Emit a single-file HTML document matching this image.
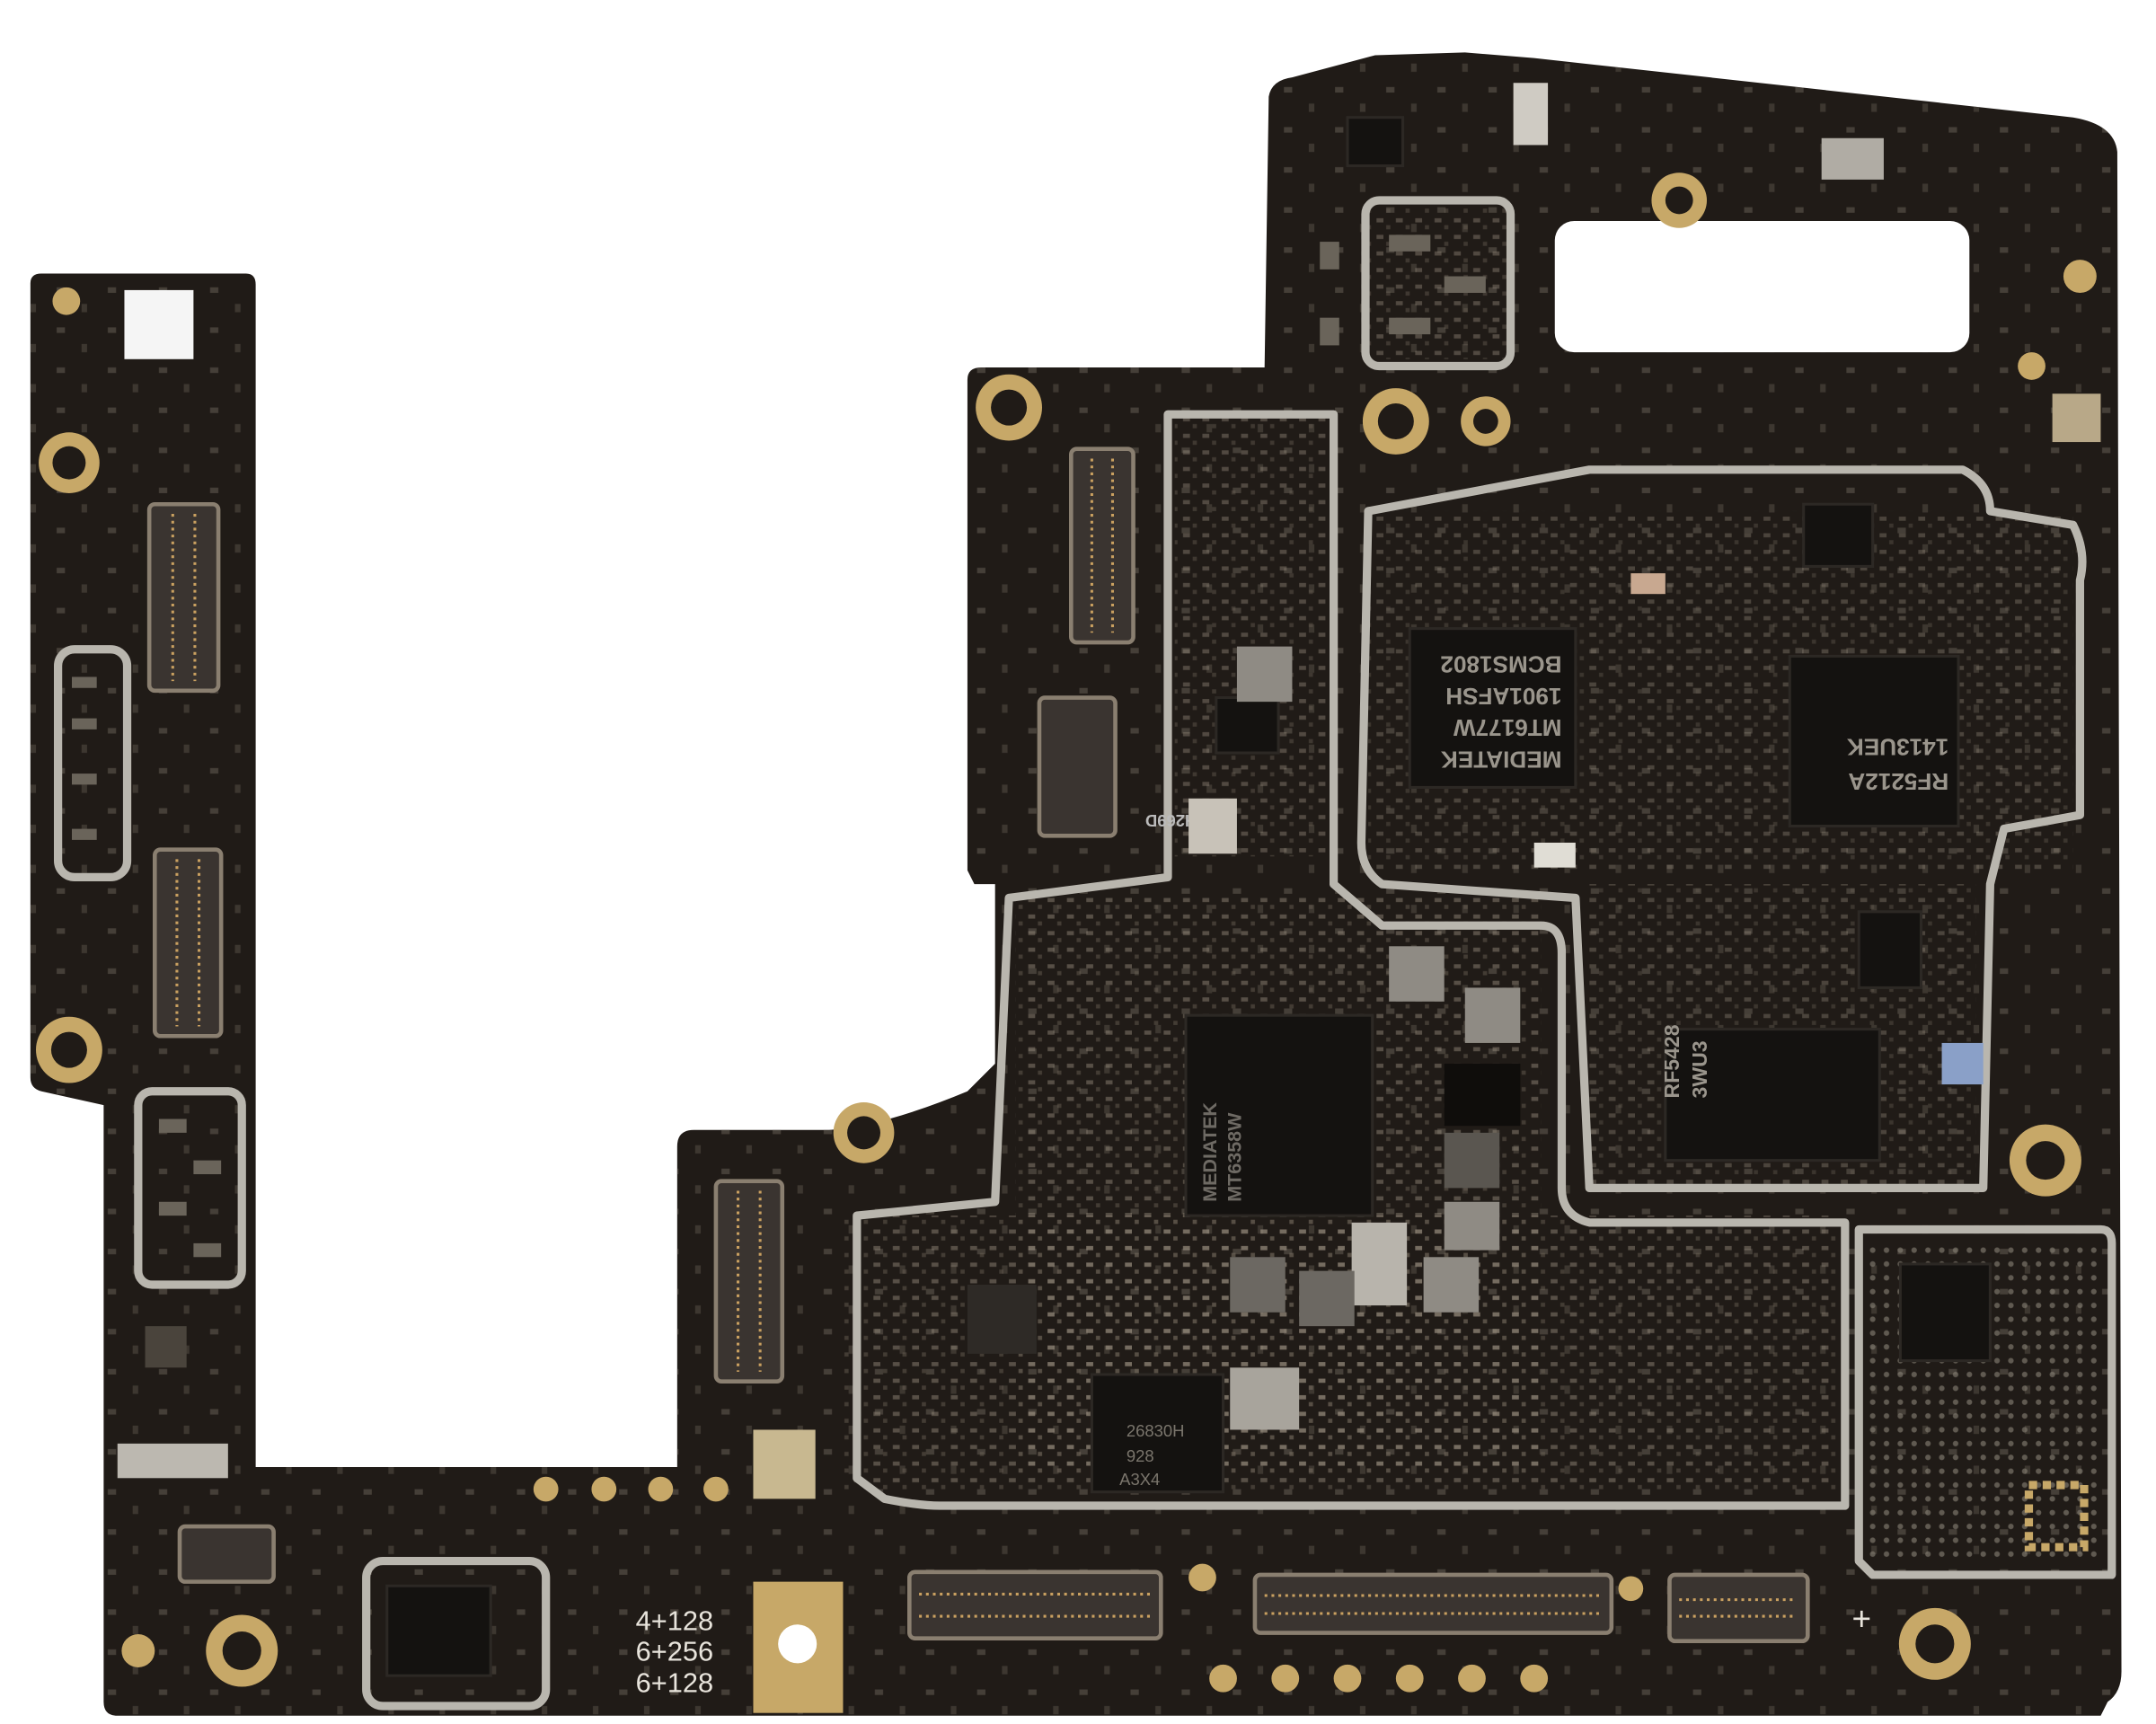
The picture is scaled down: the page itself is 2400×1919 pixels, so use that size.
<!DOCTYPE html>
<html><head><meta charset="utf-8"><style>
html,body{margin:0;padding:0;background:#fff;}
svg{display:block;}
text{font-family:"Liberation Sans",sans-serif;}
</style></head><body>
<svg width="2400" height="1919" viewBox="0 0 1560 1248" preserveAspectRatio="none" xmlns="http://www.w3.org/2000/svg">
<defs>
<pattern id="dots" width="14" height="12" patternUnits="userSpaceOnUse">
<rect x="2" y="2" width="5" height="3" fill="#9a8f80"/><rect x="9" y="7" width="3" height="3" fill="#6e6458"/>
</pattern>
<pattern id="dots2" width="10" height="10" patternUnits="userSpaceOnUse">
<circle cx="5" cy="5" r="2" fill="#8a8478"/>
</pattern>
<pattern id="sparse" width="37" height="29" patternUnits="userSpaceOnUse">
<rect x="4" y="5" width="6" height="4" fill="#6a6258"/><rect x="22" y="17" width="4" height="6" fill="#5a534a"/>
</pattern>
</defs>
<rect width="1560" height="1248" fill="#fff"/>
<path id="board" d="M22,205 Q22,198 30,198 L178,198 Q185,198 185,206 L185,1062 L490,1062 L490,830 Q490,818 502,818 L600,818 Q640,815 700,790 L720,770 L720,640 L705,640 L700,630 L700,275 Q700,266 710,266 L915,266 L918,70 Q920,58 935,56 L995,40 L1060,38 L1110,42 L1500,85 Q1530,90 1532,110 L1535,1210 Q1535,1225 1525,1232 L1520,1242 L85,1242 Q75,1242 75,1232 L75,800 L30,790 Q22,788 22,780 Z" fill="#201b17"/>
<path d="M22,205 Q22,198 30,198 L178,198 Q185,198 185,206 L185,1062 L490,1062 L490,830 Q490,818 502,818 L600,818 Q640,815 700,790 L720,770 L720,640 L705,640 L700,630 L700,275 Q700,266 710,266 L915,266 L918,70 Q920,58 935,56 L995,40 L1060,38 L1110,42 L1500,85 Q1530,90 1532,110 L1535,1210 Q1535,1225 1525,1232 L1520,1242 L85,1242 Q75,1242 75,1232 L75,800 L30,790 Q22,788 22,780 Z" fill="url(#sparse)" opacity="0.5"/>
<rect x="1125" y="160" width="300" height="95" rx="14" fill="#fff"/>
<rect x="735" y="650" width="380" height="420" fill="url(#dots)" opacity="0.45"/>
<rect x="610" y="880" width="720" height="200" fill="url(#dots)" opacity="0.45"/>
<rect x="990" y="370" width="510" height="260" fill="url(#dots)" opacity="0.35"/>
<rect x="1150" y="640" width="280" height="220" fill="url(#dots)" opacity="0.35"/>
<rect x="850" y="300" width="110" height="320" fill="url(#dots)" opacity="0.4"/>
<rect x="1350" y="900" width="170" height="230" fill="url(#dots2)" opacity="0.6"/>
<rect x="985" y="150" width="110" height="110" fill="url(#dots)" opacity="0.4"/>
<g fill="none" stroke="#b9b6ae" stroke-width="6" stroke-linejoin="round">
<path d="M845,300 L965,300 L965,640 L1000,670 L1115,670 Q1130,670 1130,690 L1130,860 Q1130,880 1150,885 L1335,885 L1335,1090 L680,1090 Q665,1090 640,1085 L620,1070 L620,880 L720,870 L730,650 L845,635 Z"/>
<path d="M990,370 L1150,340 L1420,340 Q1440,350 1440,370 L1500,380 Q1510,400 1505,420 L1505,590 L1450,600 L1440,640 L1435,860 L1150,860 L1140,650 L1000,640 Q985,630 985,610 Z"/>
<path d="M1345,890 L1520,890 Q1528,890 1528,900 L1528,1140 L1355,1140 L1345,1130 Z"/>
<rect x="988" y="145" width="105" height="120" rx="10"/>
<rect x="42" y="470" width="50" height="165" rx="12"/>
<rect x="100" y="790" width="75" height="140" rx="10"/>
<rect x="265" y="1130" width="130" height="105" rx="12"/>
</g>
<g fill="#c7a868">
<circle cx="50" cy="335" r="22"/><circle cx="50" cy="760" r="24"/><circle cx="175" cy="1195" r="26"/>
<circle cx="730" cy="295" r="24"/><circle cx="1010" cy="305" r="24"/><circle cx="1075" cy="305" r="18"/>
<circle cx="1215" cy="145" r="20"/><circle cx="1480" cy="840" r="26"/><circle cx="1400" cy="1190" r="26"/>
<circle cx="625" cy="820" r="22"/><circle cx="1505" cy="200" r="12"/><circle cx="1470" cy="265" r="10"/>
<circle cx="48" cy="218" r="10"/><circle cx="100" cy="1195" r="12"/>
<circle cx="395" cy="1078" r="9"/><circle cx="437" cy="1078" r="9"/><circle cx="478" cy="1078" r="9"/><circle cx="518" cy="1078" r="9"/>
<circle cx="870" cy="1142" r="10"/><circle cx="885" cy="1215" r="10"/><circle cx="930" cy="1215" r="10"/><circle cx="975" cy="1215" r="10"/><circle cx="1020" cy="1215" r="10"/><circle cx="1065" cy="1215" r="10"/><circle cx="1110" cy="1215" r="10"/><circle cx="1180" cy="1150" r="9"/>
</g>
<g fill="#201b17">
<circle cx="50" cy="335" r="12"/><circle cx="50" cy="760" r="13"/><circle cx="175" cy="1195" r="14"/>
<circle cx="730" cy="295" r="13"/><circle cx="1010" cy="305" r="13"/><circle cx="1075" cy="305" r="9"/>
<circle cx="1215" cy="145" r="10"/><circle cx="1480" cy="840" r="14"/><circle cx="1400" cy="1190" r="14"/><circle cx="625" cy="820" r="12"/>
</g>
<rect x="545" y="1145" width="65" height="95" fill="#c7a868"/>
<circle cx="577" cy="1190" r="14" fill="#fff"/>
<rect x="90" y="210" width="50" height="50" fill="#f5f5f5"/>
<g fill="#3a3430" stroke="#8a7f70" stroke-width="3">
<rect x="108" y="365" width="50" height="135" rx="4"/>
<rect x="112" y="615" width="48" height="135" rx="4"/>
<rect x="775" y="325" width="45" height="140" rx="4"/>
<rect x="752" y="505" width="55" height="100" rx="4"/>
<rect x="518" y="855" width="48" height="145" rx="4"/>
<rect x="658" y="1138" width="182" height="48" rx="4"/>
<rect x="908" y="1140" width="258" height="42" rx="4"/>
<rect x="1208" y="1140" width="100" height="48" rx="4"/>
<rect x="130" y="1105" width="68" height="40" rx="4"/>
</g>
<g stroke="#c9a060" stroke-width="2" stroke-dasharray="2 3">
<line x1="125" y1="372" x2="125" y2="493"/><line x1="141" y1="372" x2="141" y2="493"/>
<line x1="128" y1="622" x2="128" y2="743"/><line x1="144" y1="622" x2="144" y2="743"/>
<line x1="790" y1="332" x2="790" y2="458"/><line x1="805" y1="332" x2="805" y2="458"/>
<line x1="534" y1="862" x2="534" y2="993"/><line x1="550" y1="862" x2="550" y2="993"/>
<line x1="665" y1="1154" x2="833" y2="1154"/><line x1="665" y1="1170" x2="833" y2="1170"/>
<line x1="915" y1="1155" x2="1159" y2="1155"/><line x1="915" y1="1168" x2="1159" y2="1168"/>
<line x1="1215" y1="1158" x2="1300" y2="1158"/><line x1="1215" y1="1170" x2="1300" y2="1170"/>
</g>
<g fill="#141210" stroke="#2c2824" stroke-width="2">
<rect x="1020" y="455" width="120" height="115"/>
<rect x="1295" y="475" width="122" height="123"/>
<rect x="858" y="735" width="135" height="145"/>
<rect x="1205" y="745" width="155" height="95"/>
<rect x="790" y="995" width="95" height="85"/>
<rect x="880" y="505" width="45" height="40"/>
<rect x="1305" y="365" width="50" height="45"/>
<rect x="1345" y="660" width="45" height="55"/>
<rect x="280" y="1148" width="75" height="65"/>
<rect x="1375" y="915" width="65" height="70"/>
<rect x="975" y="85" width="40" height="35"/>
</g>
<g fill="#6a645a">
<rect x="52" y="490" width="18" height="8"/><rect x="52" y="520" width="18" height="8"/><rect x="52" y="560" width="18" height="8"/><rect x="52" y="600" width="18" height="8"/>
<rect x="115" y="810" width="20" height="10"/><rect x="140" y="840" width="20" height="10"/><rect x="115" y="870" width="20" height="10"/><rect x="140" y="900" width="20" height="10"/>
<rect x="1005" y="170" width="30" height="12"/><rect x="1045" y="200" width="30" height="12"/><rect x="1005" y="230" width="30" height="12"/>
<rect x="955" y="175" width="14" height="20"/><rect x="955" y="230" width="14" height="20"/>
<rect x="105" y="960" width="30" height="30" fill="#4a443c"/>
</g>
<g fill="#9a958c" font-size="17" font-weight="bold">
<text transform="translate(1130,475) rotate(180)">BCMS1802</text>
<text transform="translate(1130,498) rotate(180)">1901AFSH</text>
<text transform="translate(1130,521) rotate(180)">MT6177W</text>
<text transform="translate(1130,544) rotate(180)">MEDIATEK</text>
<text transform="translate(1410,535) rotate(180)">1413UEK</text>
<text transform="translate(1410,560) rotate(180)">RF5212A</text>
<text x="1215" y="795" font-size="15" transform="rotate(-90 1215 795)">RF5428</text>
<text x="1235" y="795" font-size="15" transform="rotate(-90 1235 795)">3WU3</text>
<text transform="translate(880,870) rotate(-90)" font-size="14" fill="#6e6a64">MEDIATEK</text>
<text transform="translate(898,870) rotate(-90)" font-size="14" fill="#6e6a64">MT6358W</text>
<text transform="translate(866,590) rotate(180)" font-size="12" fill="#bbb">H269D</text>
</g>
<g fill="#7a756c" font-size="12"><text x="815" y="1040">26830H</text><text x="815" y="1058">928</text><text x="810" y="1075">A3X4</text></g>
<g fill="#8f8b84">
<rect x="895" y="468" width="40" height="40"/><rect x="860" y="578" width="35" height="40" fill="#c8c2b8"/>
<rect x="1005" y="685" width="40" height="40"/><rect x="1060" y="715" width="40" height="40"/>
<rect x="1045" y="820" width="40" height="40" fill="#5a5650"/><rect x="1045" y="870" width="40" height="35"/>
<rect x="978" y="885" width="40" height="60" fill="#b8b4ac"/><rect x="1030" y="910" width="40" height="40"/>
<rect x="890" y="910" width="40" height="40" fill="#6c6862"/><rect x="940" y="920" width="40" height="40" fill="#6c6862"/>
<rect x="890" y="990" width="50" height="45" fill="#a8a49c"/><rect x="700" y="930" width="50" height="50" fill="#2e2a26"/>
<rect x="1318" y="100" width="45" height="30" fill="#b0aca4"/><rect x="1485" y="285" width="35" height="35" fill="#b8a888"/>
<rect x="85" y="1045" width="80" height="25" fill="#bcb8b0"/><rect x="545" y="1035" width="45" height="50" fill="#c8b890"/>
<rect x="1095" y="60" width="25" height="45" fill="#cfcbc3"/><rect x="1405" y="755" width="30" height="30" fill="#8aa0c8"/>
<rect x="1045" y="770" width="55" height="45" fill="#0f0d0b"/>
<rect x="1110" y="610" width="30" height="18" fill="#e0ddd5"/><rect x="1180" y="415" width="25" height="15" fill="#c8a890"/>
</g>
<g fill="#e8e4dc" font-size="20">
<text x="460" y="1180">4+128</text><text x="460" y="1202">6+256</text><text x="460" y="1225">6+128</text>
<text x="1340" y="1180" font-size="24">+</text>
</g>
<rect x="1468" y="1075" width="40" height="45" fill="none" stroke="#c7a868" stroke-width="6" stroke-dasharray="6 4"/>
</svg>
</body></html>
